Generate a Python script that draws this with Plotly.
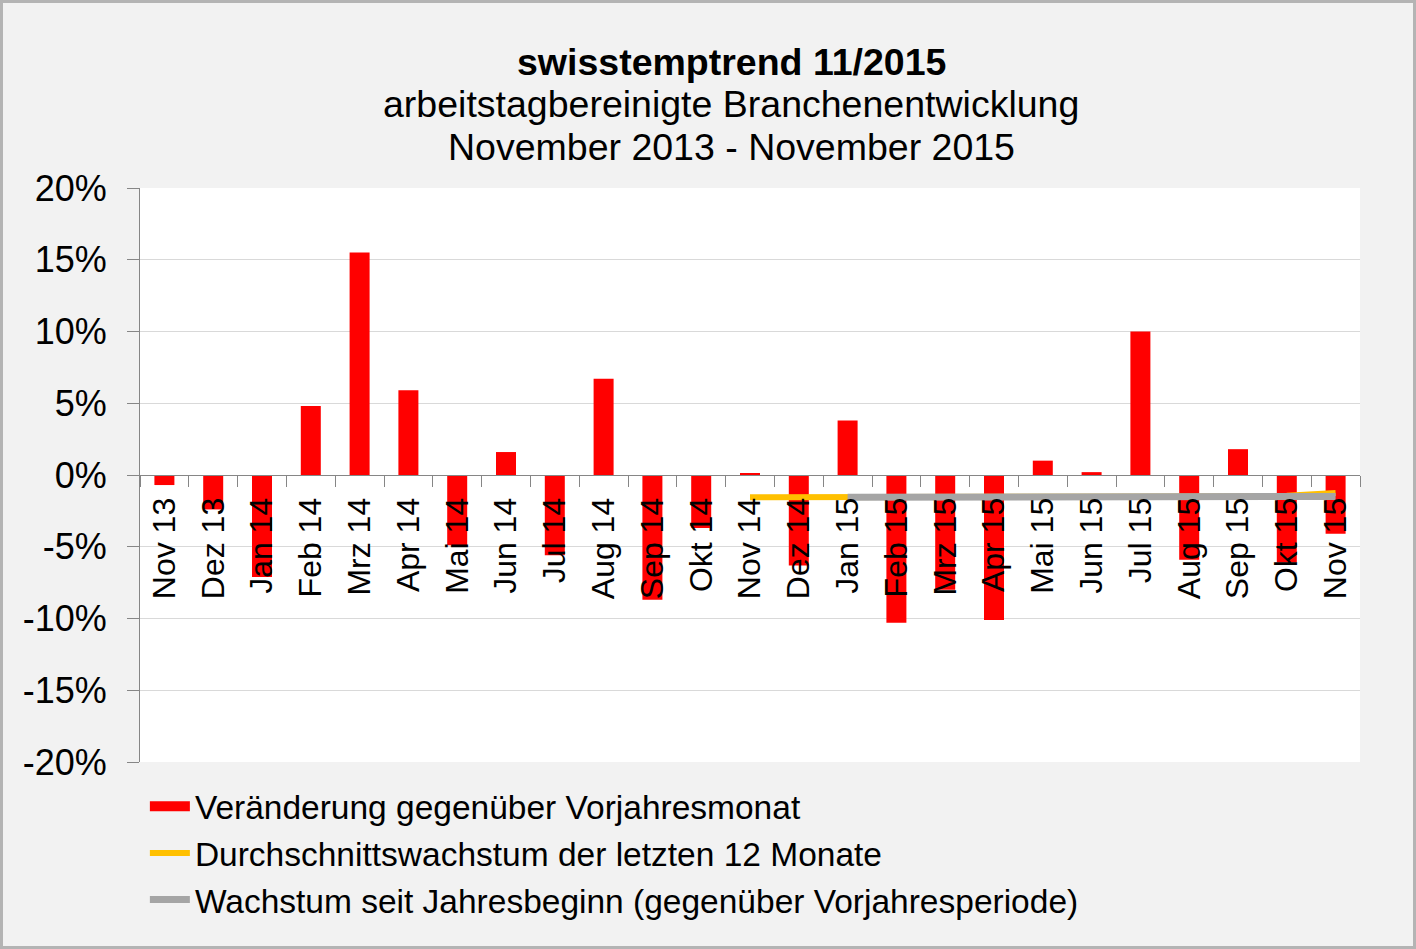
from typing import List

import plotly
import plotly.graph_objects as go

MONTHS = ["Nov 13", "Dez 13", "Jan 14", "Feb 14", "Mrz 14", "Apr 14", "Mai 14", "Jun 14", "Jul 14",
          "Aug 14", "Sep 14", "Okt 14", "Nov 14", "Dez 14", "Jan 15", "Feb 15", "Mrz 15", "Apr 15",
          "Mai 15", "Jun 15", "Jul 15", "Aug 15", "Sep 15", "Okt 15", "Nov 15"]
CHANGE_VS_PREV_YEAR = [-0.7, -2.4, -7.1, 4.8, 15.5, 5.9, -4.9, 1.6, -5.6,
                       6.7, -8.7, -3.7, 0.1, -6.3, 3.8, -10.3, -8.0, -10.1,
                       1.0, 0.2, 10.0, -5.9, 1.8, -6.1, -4.1]
AVG_12M_MONTHS = MONTHS[12:]
AVG_12M = [-1.55, -1.55, -1.55, -1.6, -1.6, -1.6, -1.55, -1.55, -1.55, -1.5, -1.5, -1.45, -1.25]
YTD_MONTHS = MONTHS[14:]
YTD = [-1.55, -1.55, -1.55, -1.55, -1.55, -1.5, -1.5, -1.5, -1.5, -1.5, -1.5]
Y_TICKS = [-20, -15, -10, -5, 0, 5, 10, 15, 20]
Y_TICK_LABELS = ["-20%", "-15%", "-10%", "-5%", "0%", "5%", "10%", "15%", "20%"]

TITLE_LINES = ["<b>swisstemptrend 11/2015</b>",
               "arbeitstagbereinigte Branchenentwicklung",
               "November 2013 - November 2015"]
BAR_NAME = "Veränderung gegenüber Vorjahresmonat"
AVG_NAME = "Durchschnittswachstum der letzten 12 Monate"
YTD_NAME = "Wachstum seit Jahresbeginn (gegenüber Vorjahresperiode)"

FONT = "Liberation Sans, Arial, sans-serif"
RED = "#ff0000"
ORANGE = "#ffc000"
GREY = "#a5a5a5"
AXIS_GREY = "#868686"
GRID_GREY = "#d9d9d9"
BACKGROUND = "#f2f2f2"

WIDTH, HEIGHT = 1416, 949
MARGIN = dict(l=140, r=56, t=188, b=187)


def _add_line(fig: plotly.graph_objs.Figure, name: str, x_list: List[str], y_list: List,
              color: str, width: float, showlegend: bool = True) -> None:
    fig.add_trace(go.Scatter(x=x_list, y=y_list, mode="lines", name=name, legendgroup=name,
                             showlegend=showlegend, line=dict(color=color, width=width)))


def _init_plot() -> plotly.graph_objs.Figure:
    fig = go.Figure()
    fig.add_trace(go.Bar(x=MONTHS, y=CHANGE_VS_PREV_YEAR, name=BAR_NAME, legendgroup=BAR_NAME,
                         showlegend=False, marker=dict(color=RED, line=dict(width=0))))
    # legend-only entry so the bar key is drawn as a wide block like the original
    _add_line(fig, BAR_NAME, [None], [None], RED, 16)
    _add_line(fig, AVG_NAME, AVG_12M_MONTHS, AVG_12M, ORANGE, 6)
    _add_line(fig, YTD_NAME, YTD_MONTHS, YTD, GREY, 7)
    return fig


def _style_plot(fig: plotly.graph_objs.Figure) -> None:
    plot_w = WIDTH - MARGIN["l"] - MARGIN["r"]
    plot_h = HEIGHT - MARGIN["t"] - MARGIN["b"]
    fig.update_layout(
        width=WIDTH, height=HEIGHT, margin=MARGIN,
        paper_bgcolor=BACKGROUND, plot_bgcolor="white",
        font=dict(family=FONT, color="black"),
        bargap=0.59,
        showlegend=True,
        legend=dict(x=0.004, xanchor="left", y=-0.028, yanchor="top", bgcolor="rgba(0,0,0,0)",
                    font=dict(size=33.5), itemwidth=40, tracegroupgap=6, traceorder="normal"),
    )
    fig.update_yaxes(range=[-20, 20], tickvals=Y_TICKS, ticktext=Y_TICK_LABELS,
                     tickfont=dict(size=36), showgrid=True, gridcolor=GRID_GREY, gridwidth=1,
                     zeroline=False, showline=True, linecolor=AXIS_GREY, linewidth=1,
                     ticks="outside", ticklen=12, tickcolor=AXIS_GREY, ticklabelstandoff=13)
    fig.update_xaxes(type="category", anchor="free", position=0.5, tickangle=-90,
                     tickfont=dict(size=32), showgrid=False, zeroline=False, showline=True,
                     linecolor=AXIS_GREY, linewidth=1, ticks="outside", ticklen=11,
                     tickcolor=AXIS_GREY, tickson="boundaries", ticklabelstandoff=9)

    # title as separate lines to control spacing
    title_y = [62, 104, 147]
    for text, y_px in zip(TITLE_LINES, title_y):
        fig.add_annotation(text=text, xref="paper", yref="paper",
                           x=(731 - MARGIN["l"]) / plot_w, y=1 + (MARGIN["t"] - y_px) / plot_h,
                           xanchor="center", yanchor="middle", showarrow=False,
                           font=dict(size=37.5, family=FONT))

    # outer frame
    fig.add_shape(type="rect", xref="paper", yref="paper",
                  x0=-(MARGIN["l"] - 1.5) / plot_w, x1=1 + (MARGIN["r"] - 1.5) / plot_w,
                  y0=-(MARGIN["b"] - 1.5) / plot_h, y1=1 + (MARGIN["t"] - 1.5) / plot_h,
                  line=dict(color="#b4b4b4", width=3), layer="below")


def _show_plot(fig: plotly.graph_objs.Figure) -> None:
    fig.write_html("out.html", config={"displayModeBar": False},
                   post_script="document.body.style.margin = '0';")


fig = _init_plot()
_style_plot(fig)
_show_plot(fig)
